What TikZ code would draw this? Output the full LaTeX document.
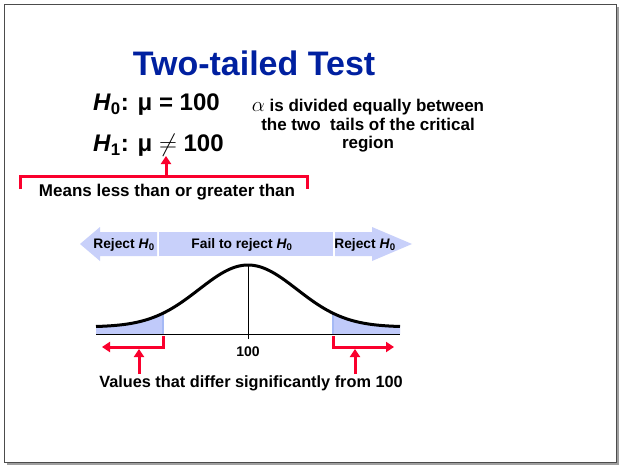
\documentclass[tikz,border=0pt]{standalone}
\usepackage{fontspec}
\setmainfont{Liberation Sans}
\usetikzlibrary{arrows.meta}
\definecolor{titleblue}{RGB}{0,32,160}
\definecolor{bandblue}{RGB}{200,208,250}
\definecolor{tailblue}{RGB}{192,202,250}
\definecolor{edgeblue}{RGB}{165,185,245}
\definecolor{marker}{RGB}{250,0,45}
\begin{document}
\begin{tikzpicture}[x=1pt,y=-1pt,font=\bfseries,
  every node/.style={inner sep=0pt,align=center},
  redline/.style={draw=marker,line width=3pt},
  redarrow/.style={redline,-{Triangle[length=8pt,width=10pt]}},
  bandlabel/.style={font=\fontsize{13.8}{15}\bfseries\selectfont}]
\useasboundingbox (0,0) rectangle (621,468);
% frame with shadow
\fill[gray!75] (7,7) rectangle (619,465);
\filldraw[fill=white,draw=gray!60!black,line width=0.8pt] (4,4) rectangle (616,462);
% title and hypotheses
\node[anchor=base,text=titleblue,font=\fontsize{34}{38}\bfseries\selectfont] (title) at (254,76) {Two-tailed Test};
\node[anchor=base west,font=\fontsize{24}{26}\bfseries\selectfont] (hnull) at (93,111) {\textit{H}\textsubscript{0}: μ = 100};
\node[anchor=base west,font=\fontsize{24}{26}\bfseries\selectfont] (halt) at (93,152) {\textit{H}\textsubscript{1}: μ $\neq$ 100};
\node[font=\fontsize{17}{18.5}\bfseries\selectfont] (alphanote) at (368,126) {{\fontsize{22}{18.5}\selectfont$\alpha$} is divided equally between\\the two\ \ tails of the critical\\region};
% bracket under H1
\coordinate (bl) at (20,189); \coordinate (br) at (307,189);
\coordinate (bar) at (166,176); \coordinate (neq) at (166,156);
\draw[redline] (bl) |- (bar) -| (br);
\draw[redarrow] (bar) -- (neq);
\node[font=\fontsize{17}{19}\bfseries\selectfont] (meansnote) at (167,192) {Means less than or greater than};
% decision band
\fill[bandblue] (80,244) -- (100,227) -- (100,232) -- (157,232) -- (157,256) -- (100,256) -- (100,261) -- cycle;
\fill[bandblue] (159,232) rectangle (333,256);
\fill[bandblue] (335,232) -- (372,232) -- (372,227) -- (412,244) -- (372,261) -- (372,256) -- (335,256) -- cycle;
\node[bandlabel] (rejleft) at (124,245) {Reject \textit{H}\textsubscript{0}};
\node[bandlabel] (failmid) at (242,245) {Fail to reject \textit{H}\textsubscript{0}};
\node[bandlabel] (rejright) at (365,245) {Reject \textit{H}\textsubscript{0}};
% tails and curve
\fill[tailblue] (96,334) -- plot[domain=96:163,samples=30] (\x,{334-(7+62*exp(-0.5*((\x-248)/49)^2))}) -- (163,334) -- cycle;
\fill[tailblue] (333,334) -- plot[domain=333:400,samples=30] (\x,{334-(7+62*exp(-0.5*((\x-248)/49)^2))}) -- (400,334) -- cycle;
\draw[edgeblue,line width=1.2pt] (163,334) -- (163,{334-(7+62*exp(-0.5*((163-248)/49)^2))});
\draw[edgeblue,line width=1.2pt] (333,334) -- (333,{334-(7+62*exp(-0.5*((333-248)/49)^2))});
\draw (96,334) -- (400,334);
\draw (248,265) -- (248,339);
\draw[line width=3pt] plot[domain=96:400,samples=120,smooth] (\x,{334-(7+62*exp(-0.5*((\x-248)/49)^2))});
\node[font=\fontsize{14}{16}\bfseries\selectfont] (mean) at (248,352) {100};
% rejection regions
\coordinate (lt) at (163,336); \coordinate (lend) at (102,347);
\coordinate (rt) at (333,336); \coordinate (rend) at (394,347);
\draw[redarrow] (lt) |- (lend);
\draw[redarrow] (rt) |- (rend);
\node[font=\fontsize{16.3}{18}\bfseries\selectfont] (valuesnote) at (251,383) {Values that differ significantly from 100};
\draw[redarrow] (139,374) -- (139,349);
\draw[redarrow] (355,374) -- (355,349);
\end{tikzpicture}
\end{document}
